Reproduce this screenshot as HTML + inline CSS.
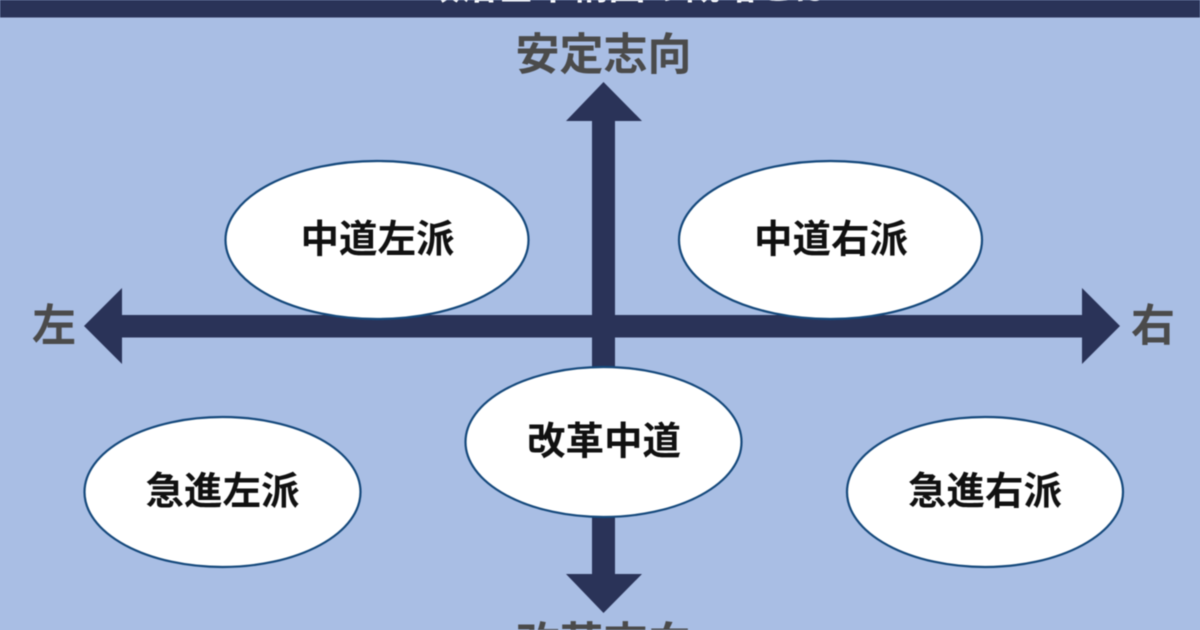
<!DOCTYPE html>
<html lang="ja">
<head>
<meta charset="utf-8">
<style>
html,body{margin:0;padding:0;width:1200px;height:630px;overflow:hidden;background:#a9bee4}
svg{display:block;position:absolute;left:0;top:0;overflow:hidden;filter:blur(.45px)}
text{font-family:"Liberation Sans","Noto Sans CJK JP",sans-serif;font-weight:700;text-anchor:middle;dominant-baseline:central}
.g{fill:#4b4b4b;font-size:44px}
.k{fill:#111;font-size:38.5px}
.t{fill:#fff;font-size:37px}
ellipse{fill:#fff;stroke:#15497c;stroke-width:2.2}
</style>
</head>
<body>
<svg width="1200" height="630" viewBox="0 0 1200 630" xmlns="http://www.w3.org/2000/svg">
<rect width="1200" height="630" fill="#a9bee4"/>
<rect width="1200" height="17.5" fill="#2a3358"/>
<text class="t" x="627" y="-13.5">政治基本構図の概略とは</text>
<g fill="#2a3358">
<polygon points="603.5,82 642,121 615,121 615,574 642,574 603.5,613 566,574 592,574 592,121 566,121"/>
<polygon points="84,326 122,288 122,315 1082,315 1082,288 1120,326 1082,364 1082,337.500 122,337.500 122,364"/>
</g>
<ellipse cx="377" cy="240" rx="151.500" ry="79"/>
<ellipse cx="830.500" cy="240" rx="151.500" ry="79"/>
<ellipse cx="603.500" cy="442" rx="138" ry="75"/>
<ellipse cx="222.500" cy="492" rx="138" ry="75"/>
<ellipse cx="985" cy="492" rx="138" ry="75"/>
<text class="k" x="377.500" y="240">中道左派</text>
<text class="k" x="831" y="240">中道右派</text>
<text class="k" x="604" y="442">改革中道</text>
<text class="k" x="222.500" y="492">急進左派</text>
<text class="k" x="985" y="492">急進右派</text>
<text class="g" x="603.500" y="55">安定志向</text>
<text class="g" x="603.500" y="644">改革志向</text>
<text class="g" x="54" y="326">左</text>
<text class="g" x="1153" y="326">右</text>
</svg>
</body>
</html>
